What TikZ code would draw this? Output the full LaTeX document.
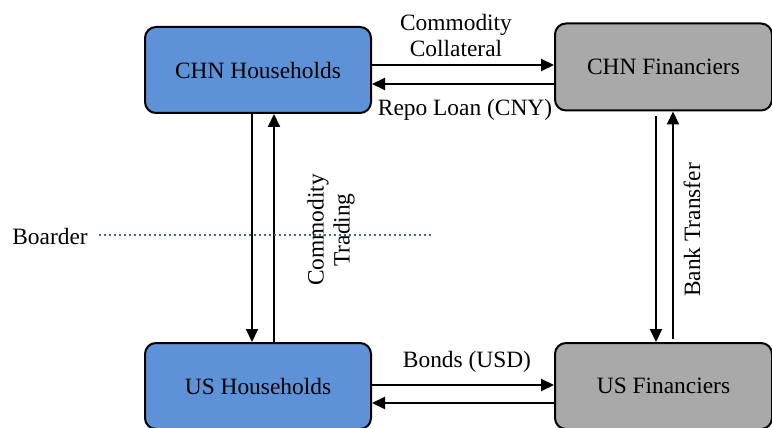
\documentclass[tikz,border=0pt]{standalone}
\usepackage{fontspec}
\setmainfont{Liberation Serif}
\usetikzlibrary{arrows.meta}
\definecolor{hhblue}{HTML}{5E92D6}
\definecolor{fingray}{HTML}{A9A9A9}
\definecolor{borderblue}{HTML}{3D6A8A}

\begin{document}
\begin{tikzpicture}[x=1pt,y=-1pt,>={Triangle[length=13pt,width=12pt]},line width=2pt,
  font=\fontsize{23.4}{26}\selectfont,
  agent/.style={draw=black,line width=2pt,rounded corners=11pt,minimum width=226pt,minimum height=86pt,inner sep=0pt},
  flowlabel/.style={align=center,inner sep=0pt}]
\clip (0,0) rectangle (772,428);
% boxes
\node[agent,fill=hhblue] (chnhh) at (258,70) {CHN Households};
\node[agent,fill=fingray,minimum width=217pt,minimum height=87pt] (chnfin) at (663.5,67) {CHN Financiers};
\node[agent,fill=hhblue] (ushh) at (258,386) {US Households};
\node[agent,fill=fingray,minimum width=217pt] (usfin) at (663.5,386) {US Financiers};
% horizontal flows
\draw[->] ([yshift=5pt]chnhh.east) -- ([yshift=5pt]chnhh.east -| chnfin.west);
\draw[->] ([yshift=-14pt]chnhh.east -| chnfin.west) -- ([yshift=-14pt]chnhh.east);
\draw[->] ([yshift=1pt]ushh.east) -- ([yshift=1pt]ushh.east -| usfin.west);
\draw[->] ([yshift=-17pt]ushh.east -| usfin.west) -- ([yshift=-17pt]ushh.east);
% vertical flows
\draw[->] ([xshift=-6pt]chnhh.south) -- ([xshift=-6pt]chnhh.south |- ushh.north);
\draw[->] ([xshift=16pt]chnhh.south |- ushh.north) -- ([xshift=16pt]chnhh.south);
\draw[->] ([xshift=-7.5pt,yshift=-5pt]chnfin.south) -- ([xshift=-7.5pt]chnfin.south |- usfin.north);
\draw[->] ([xshift=9.5pt,yshift=3pt]chnfin.south |- usfin.north) -- ([xshift=9.5pt]chnfin.south);
% labels
\node[flowlabel] (collat) at (456,35) {Commodity\\Collateral};
\node[flowlabel] (repo) at (465,110) {Repo Loan (CNY)};
\node[flowlabel] (bonds) at (467,362) {Bonds (USD)};
\node[flowlabel,rotate=90] (trading) at (331,230) {Commodity\\Trading};
\node[flowlabel,rotate=90] (transfer) at (692,230) {Bank Transfer};
% border
\node[flowlabel] (boarder) at (50,236) {Boarder};
\coordinate (borderend) at (432,235);
\draw[borderblue,line width=1.6pt,dash pattern=on 2.4pt off 2.6pt] ([xshift=10pt]boarder.east |- borderend) -- (borderend);
\end{tikzpicture}
\end{document}
